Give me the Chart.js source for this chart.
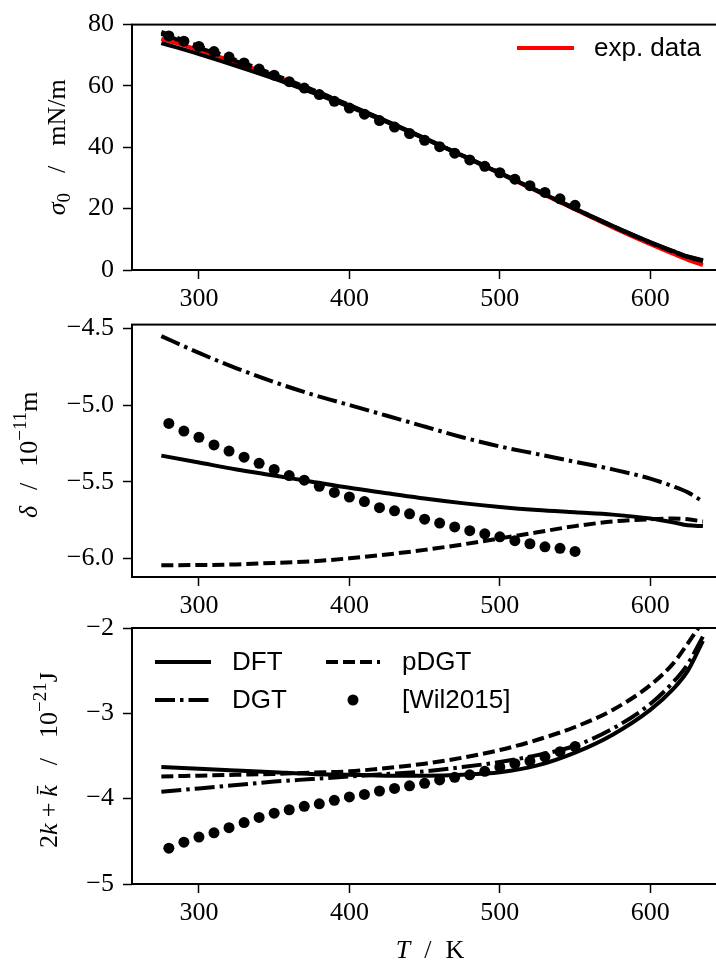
<!DOCTYPE html>
<html>
<head>
<meta charset="utf-8">
<script src="https://cdn.jsdelivr.net/npm/chart.js@4.4.1/dist/chart.umd.min.js"></script>
<style>
    html, body { margin: 0; padding: 0; background: #fff; width: 716px; height: 967px; overflow: hidden; }
    canvas { position: absolute; left: 0; }
</style>
</head>
<body>
<canvas id="sigma-chart" width="740" height="320" style="top:0px"></canvas>
<canvas id="delta-chart" width="740" height="330" style="top:300px"></canvas>
<canvas id="kappa-chart" width="740" height="367" style="top:600px"></canvas>
<script>
// temperatures (K)
const T_LINE = [275, 300, 325, 350, 375, 400, 425, 450, 475, 500, 525, 550, 575, 600, 615, 625, 635];
const T_DOTS = [280, 290, 300, 310, 320, 330, 340, 350, 360, 370, 380, 390, 400, 410,
                420, 430, 440, 450, 460, 470, 480, 490, 500, 510, 520, 530, 540, 550];
const X_TICKS = [300, 400, 500, 600];

// surface tension sigma_0 (mN/m)
const sigmaExp  = [75.4, 71.7, 67.6, 63.3, 58.6, 53.6, 48.4, 42.9, 37.3, 31.5, 25.6, 19.7, 13.9, 8.4, 5.3, 3.3, 1.6];
const sigmaDFT  = [74.0, 70.4, 66.5, 62.4, 57.9, 53.2, 48.2, 42.8, 37.3, 31.6, 25.8, 20.0, 14.4, 9.1, 6.2, 4.4, 3.2];
const sigmaDGT  = [77.0, 72.5, 68.0, 63.4, 58.6, 53.6, 48.4, 42.9, 37.4, 31.7, 25.9, 20.0, 14.3, 9.0, 6.1, 4.3, 3.0];
const sigmaPDGT = [77.6, 73.0, 68.4, 63.7, 58.9, 53.8, 48.5, 43.0, 37.4, 31.6, 25.8, 19.9, 14.2, 8.9, 6.0, 4.2, 2.9];
const sigmaWil  = [76.3, 74.6, 72.9, 71.2, 69.4, 67.5, 65.5, 63.5, 61.4, 59.3, 57.2, 55.0, 52.8, 50.8,
                   48.7, 46.6, 44.5, 42.3, 40.2, 38.1, 35.9, 33.8, 31.7, 29.6, 27.5, 25.3, 23.2, 21.1];
const sigmaTicks = [0, 20, 40, 60, 80];

// Tolman length delta (1e-11 m)
const deltaDFT  = [-5.33, -5.375, -5.42, -5.46, -5.50, -5.54, -5.575, -5.61, -5.64, -5.665, -5.685, -5.70, -5.715, -5.74, -5.765, -5.785, -5.79];
const deltaDGT  = [-4.55, -4.66, -4.76, -4.85, -4.93, -5.00, -5.07, -5.14, -5.21, -5.27, -5.32, -5.37, -5.42, -5.48, -5.53, -5.57, -5.63];
const deltaPDGT = [-6.045, -6.044, -6.04, -6.03, -6.02, -6.00, -5.975, -5.945, -5.91, -5.87, -5.83, -5.79, -5.76, -5.745, -5.74, -5.745, -5.76];
const deltaWil  = [-5.12, -5.17, -5.21, -5.26, -5.30, -5.34, -5.38, -5.42, -5.46, -5.49, -5.53, -5.57, -5.60, -5.63,
                   -5.67, -5.69, -5.71, -5.745, -5.77, -5.795, -5.82, -5.84, -5.86, -5.885, -5.905, -5.925, -5.935, -5.955];
const deltaTicks = [-6.0, -5.5, -5.0, -4.5];

// rigidity 2k + kbar (1e-21 J)
const kappaDFT  = [-3.63, -3.65, -3.67, -3.69, -3.71, -3.72, -3.73, -3.73, -3.72, -3.69, -3.61, -3.46, -3.25, -2.96, -2.72, -2.50, -2.15];
const kappaDGT  = [-3.92, -3.88, -3.84, -3.80, -3.77, -3.74, -3.71, -3.68, -3.63, -3.57, -3.49, -3.38, -3.18, -2.89, -2.64, -2.42, -2.10];
const kappaPDGT = [-3.74, -3.73, -3.72, -3.71, -3.695, -3.68, -3.64, -3.59, -3.52, -3.43, -3.31, -3.16, -2.96, -2.67, -2.42, -2.18, -1.92];
const kappaWil  = [-4.58, -4.51, -4.45, -4.40, -4.34, -4.28, -4.22, -4.17, -4.13, -4.09, -4.06, -4.02, -3.98, -3.95,
                   -3.91, -3.88, -3.85, -3.82, -3.78, -3.75, -3.72, -3.68, -3.63, -3.59, -3.56, -3.51, -3.45, -3.39];
const kappaTicks = [-5, -4, -3, -2];

const SERIF = "'Liberation Serif', 'DejaVu Serif', serif";
const SANS = "'Liberation Sans', Arial, sans-serif";
const DASHED = [12, 5];
const DASHDOT = [20, 5, 3.5, 5];

function minus(v) {
    return String(v).replace('-', '\u2212');
}

function pairs(xs, ys) {
    return xs.map((x, i) => ({ x: x, y: ys[i] }));
}

function lineSet(label, ys, dash, color) {
    return {
        label: label,
        data: pairs(T_LINE, ys),
        borderColor: color || '#000',
        borderWidth: 4,
        borderDash: dash || [],
        borderCapStyle: 'butt',
        pointRadius: 0,
        fill: false,
        cubicInterpolationMode: 'monotone'
    };
}

function dotSet(ys) {
    return {
        label: '[Wil2015]',
        data: pairs(T_DOTS, ys),
        showLine: false,
        pointRadius: 5.5,
        pointBackgroundColor: '#000',
        pointBorderWidth: 0
    };
}

// draws a label made of pieces: [text, style] or a number (extra gap in px)
function drawRich(ctx, parts, cx, cy, rotate) {
    ctx.save();
    ctx.translate(cx, cy);
    if (rotate) ctx.rotate(-Math.PI / 2);
    ctx.fillStyle = '#000';
    ctx.textBaseline = 'alphabetic';
    let total = 0;
    const items = parts.map(p => {
        if (typeof p === 'number') {
            total += p;
            return { gap: p };
        }
        const style = p[1];
        let font = '26px ' + SERIF;
        if (style === 'i') font = 'italic 26px ' + SERIF;
        if (style === 'sup' || style === 'sub') font = '19px ' + SERIF;
        ctx.font = font;
        const w = ctx.measureText(p[0]).width;
        total += w;
        return { text: p[0], font: font, w: w, dy: style === 'sup' ? -11 : style === 'sub' ? 5 : 0 };
    });
    let x = -total / 2;
    items.forEach(it => {
        if (it.gap) {
            x += it.gap;
            return;
        }
        ctx.font = it.font;
        ctx.fillText(it.text, x, 8 + it.dy);
        x += it.w;
    });
    ctx.restore();
}

function drawLegendLine(ctx, x0, x1, y, color, dash) {
    ctx.save();
    ctx.strokeStyle = color;
    ctx.lineWidth = 4;
    ctx.lineCap = 'butt';
    ctx.setLineDash(dash);
    ctx.beginPath();
    ctx.moveTo(x0, y);
    ctx.lineTo(x1, y);
    ctx.stroke();
    ctx.restore();
}

function drawLegendText(ctx, text, x, y) {
    ctx.save();
    ctx.fillStyle = '#000';
    ctx.font = '26px ' + SANS;
    ctx.textBaseline = 'middle';
    ctx.fillText(text, x, y + 1);
    ctx.restore();
}

function makePanel(id, datasets, yMin, yMax, yTicks, fmt, padTop, xAxisH, extras) {
    const frame = {
        id: 'frame',
        afterDraw(chart) {
            const { ctx, chartArea: a } = chart;
            ctx.save();
            ctx.strokeStyle = '#000';
            ctx.lineWidth = 2;
            ctx.strokeRect(a.left, a.top, a.right - a.left, a.bottom - a.top);
            ctx.restore();
            extras(chart);
        }
    };
    const tickFont = { family: SERIF, size: 26 };
    const grid = { drawOnChartArea: false, drawTicks: true, tickLength: 9, tickWidth: 1.5, tickColor: '#000' };

    return new Chart(document.getElementById(id).getContext('2d'), {
        type: 'line',
        data: { datasets: datasets },
        options: {
            responsive: false,
            animation: false,
            layout: { padding: { top: padTop, right: 10, left: 0, bottom: 0 } },
            plugins: { legend: { display: false }, tooltip: { enabled: false } },
            scales: {
                x: {
                    type: 'linear',
                    min: 255.5,
                    max: 653,
                    afterFit: s => { s.height = xAxisH; },
                    afterBuildTicks: s => { s.ticks = X_TICKS.map(v => ({ value: v })); },
                    grid: grid,
                    border: { display: false },
                    ticks: { font: tickFont, color: '#000', padding: 5, maxRotation: 0, callback: v => String(v) }
                },
                y: {
                    min: yMin,
                    max: yMax,
                    afterFit: s => { s.width = 132; },
                    afterBuildTicks: s => { s.ticks = yTicks.map(v => ({ value: v })); },
                    grid: grid,
                    border: { display: false },
                    ticks: { font: tickFont, color: '#000', padding: 9, callback: fmt }
                }
            }
        },
        plugins: [frame]
    });
}

document.addEventListener('DOMContentLoaded', () => {
    makePanel('sigma-chart', [
        dotSet(sigmaWil),
        lineSet('pDGT', sigmaPDGT, DASHED),
        lineSet('DGT', sigmaDGT, DASHDOT),
        lineSet('DFT', sigmaDFT),
        lineSet('exp. data', sigmaExp, [], '#ff0000')
    ], 0, 80, sigmaTicks, v => minus(v), 14, 50, chart => {
        const ctx = chart.ctx;
        const a = chart.chartArea;
        drawRich(ctx, [['\u03c3', 'i'], ['0', 'sub'], 20, ['/', 'r'], 20, ['mN/m', 'r']],
            57, (a.top + a.bottom) / 2, true);
        drawLegendLine(ctx, 517, 574, 48, '#ff0000', []);
        drawLegendText(ctx, 'exp. data', 594, 48);
    });

    makePanel('delta-chart', [
        dotSet(deltaWil),
        lineSet('pDGT', deltaPDGT, DASHED),
        lineSet('DGT', deltaDGT, DASHDOT),
        lineSet('DFT', deltaDFT)
    ], -6.122, -4.475, deltaTicks, v => minus(v.toFixed(1)), 21, 53, chart => {
        const a = chart.chartArea;
        drawRich(chart.ctx, [['\u03b4', 'i'], 16, ['/', 'r'], 16, ['10', 'r'], ['\u221211', 'sup'], ['m', 'r']],
            29, (a.top + a.bottom) / 2 + 4, true);
    });

    makePanel('kappa-chart', [
        dotSet(kappaWil),
        lineSet('pDGT', kappaPDGT, DASHED),
        lineSet('DGT', kappaDGT, DASHDOT),
        lineSet('DFT', kappaDFT)
    ], -5, -2, kappaTicks, v => minus(v), 28, 83, chart => {
        const ctx = chart.ctx;
        const a = chart.chartArea;
        drawRich(ctx, [['2', 'r'], ['k', 'i'], 6, ['+', 'r'], 6, ['k\u0304', 'i'], 20, ['/', 'r'], 20,
            ['10', 'r'], ['\u221221', 'sup'], ['J', 'r']],
            49, (a.top + a.bottom) / 2 + 4, true);
        drawRich(ctx, [['T', 'i'], 14, ['/', 'r'], 14, ['K', 'r']], 430, 350, false);

        drawLegendLine(ctx, 155, 211, 62, '#000', []);
        drawLegendText(ctx, 'DFT', 232, 62);
        drawLegendLine(ctx, 326, 380, 62, '#000', DASHED);
        drawLegendText(ctx, 'pDGT', 402, 62);
        drawLegendLine(ctx, 155, 211, 100, '#000', DASHDOT);
        drawLegendText(ctx, 'DGT', 232, 100);
        ctx.save();
        ctx.fillStyle = '#000';
        ctx.beginPath();
        ctx.arc(353, 100, 5.5, 0, Math.PI * 2);
        ctx.fill();
        ctx.restore();
        drawLegendText(ctx, '[Wil2015]', 402, 100);
    });
});
</script>
</body>
</html>
